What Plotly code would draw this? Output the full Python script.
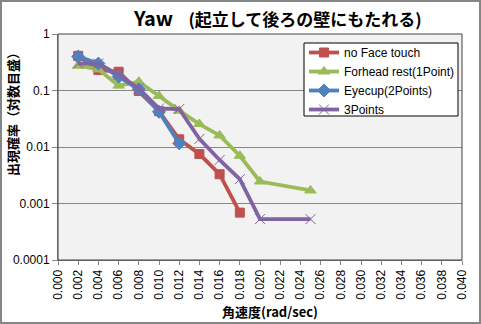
import plotly.graph_objects as go

# Angular velocity (rad/sec) and occurrence probability for each support condition
x_no_touch = [0.002, 0.004, 0.006, 0.008, 0.010, 0.012, 0.014, 0.016, 0.018]
y_no_touch = [0.41, 0.23, 0.215, 0.098, 0.043, 0.0137, 0.0075, 0.0033, 0.00069]

x_forhead = [0.002, 0.004, 0.006, 0.008, 0.010, 0.012, 0.014, 0.016, 0.018, 0.020, 0.025]
y_forhead = [0.275, 0.237, 0.122, 0.143, 0.080, 0.044, 0.0255, 0.016, 0.0070, 0.00245, 0.0017]

x_eyecup = [0.002, 0.004, 0.006, 0.008, 0.010, 0.012]
y_eyecup = [0.40, 0.30, 0.176, 0.105, 0.042, 0.0116]

x_3points = [0.002, 0.004, 0.006, 0.008, 0.010, 0.012, 0.014, 0.016, 0.018, 0.020, 0.025]
y_3points = [0.30, 0.30, 0.19, 0.109, 0.048, 0.047, 0.0139, 0.0059, 0.0027, 0.00053, 0.00053]

y_tick_vals = [0.0001, 0.001, 0.01, 0.1, 1]
y_tick_text = ["0.0001", "0.001", "0.01", "0.1", "1"]
x_tick_vals = [i * 0.002 for i in range(21)]
x_tick_text = [f"{v:.3f}" for v in x_tick_vals]

W, H = 481, 324
ML, MR, MT, MB = 58, 19, 34, 64
PW, PH = W - ML - MR, H - MT - MB

fig = go.Figure()

series = [
    ("no Face touch", x_no_touch, y_no_touch, "#C0504D", "square", 9),
    ("Forhead rest(1Point)", x_forhead, y_forhead, "#9BBB59", "triangle-up", 10),
    ("Eyecup(2Points)", x_eyecup, y_eyecup, "#4F81BD", "diamond", 10),
    ("3Points", x_3points, y_3points, "#8064A2", "x-thin-open", 10),
]
for name, xs, ys, col, sym, sz in series:
    fig.add_trace(go.Scatter(
        x=xs, y=ys, name=name, mode="lines+markers",
        line=dict(color=col, width=3.8),
        marker=dict(symbol=sym, size=sz, color=col,
                    line=dict(color=col, width=1)),
    ))

font_jp = "Noto Sans CJK JP, Liberation Sans, Arial, sans-serif"
font_lat = "Liberation Sans, Arial, sans-serif"

fig.update_layout(
    width=W, height=H,
    margin=dict(l=ML, r=MR, t=MT, b=MB, autoexpand=False),
    paper_bgcolor="white",
    plot_bgcolor="#F2F2F2",
    font=dict(family=font_jp, size=11, color="#000000"),
    showlegend=True,
    legend=dict(
        x=(304 - ML) / PW, y=(H - MB - 38) / PH,
        xanchor="left", yanchor="top",
        bgcolor="rgba(0,0,0,0)", bordercolor="rgba(0,0,0,0)", borderwidth=0,
        font=dict(family=font_lat, size=12),
        tracegroupgap=0, itemwidth=30,
    ),
    xaxis=dict(
        range=[0, 0.040], tickvals=x_tick_vals, ticktext=x_tick_text,
        tickangle=-90, showgrid=False, zeroline=False, automargin=False,
        showline=True, linecolor="#868686", linewidth=1,
        ticks="outside", ticklen=4, tickcolor="#868686",
        tickfont=dict(family=font_lat, size=12),
    ),
    yaxis=dict(
        type="log", range=[-4, 0], automargin=False,
        tickvals=y_tick_vals, ticktext=y_tick_text,
        showgrid=True, gridcolor="#868686", gridwidth=1, zeroline=False,
        showline=True, linecolor="#868686", linewidth=1,
        ticks="outside", ticklen=5, tickcolor="#868686",
        tickfont=dict(family=font_lat, size=12),
    ),
)

# Legend frame (white box with black border)
fig.add_shape(type="rect", xref="paper", yref="paper",
              x0=(304 - ML) / PW, x1=(458 - ML) / PW,
              y0=(H - MB - 116) / PH, y1=(H - MB - 43) / PH,
              line=dict(color="#000000", width=1), fillcolor="white",
              layer="above")

# Chart title
fig.add_annotation(
    xref="paper", yref="paper",
    x=(277 - ML) / PW, y=(H - MB - 18) / PH,
    xanchor="center", yanchor="middle", showarrow=False,
    text="<b><span style='font-size:20px'>Yaw</span>    (起立して後ろの壁にもたれる)</b>",
    font=dict(family=font_jp, size=17, color="#000000"),
)

# Axis titles
fig.add_annotation(
    xref="paper", yref="paper",
    x=(12 - ML) / PW, y=(H - MB - 111) / PH,
    xanchor="center", yanchor="middle", showarrow=False, textangle=-90,
    text="<b>出現確率（対数目盛）</b>",
    font=dict(family=font_jp, size=13, color="#000000"),
)
fig.add_annotation(
    xref="paper", yref="paper",
    x=(270 - ML) / PW, y=(H - MB - 311) / PH,
    xanchor="center", yanchor="middle", showarrow=False,
    text="<b>角速度(rad/sec)</b>",
    font=dict(family=font_jp, size=13, color="#000000"),
)

# Plot area frame
fig.add_shape(type="rect", xref="paper", yref="paper",
              x0=0, y0=0, x1=1, y1=1,
              line=dict(color="#404040", width=1), layer="above")
# Outer chart frame
fig.add_shape(type="rect", xref="paper", yref="paper",
              x0=-(ML - 1) / PW, y0=-(MB - 1) / PH,
              x1=1 + (MR - 1) / PW, y1=1 + (MT - 1) / PH,
              line=dict(color="#868686", width=2), layer="above")

fig.write_html("out.html")
